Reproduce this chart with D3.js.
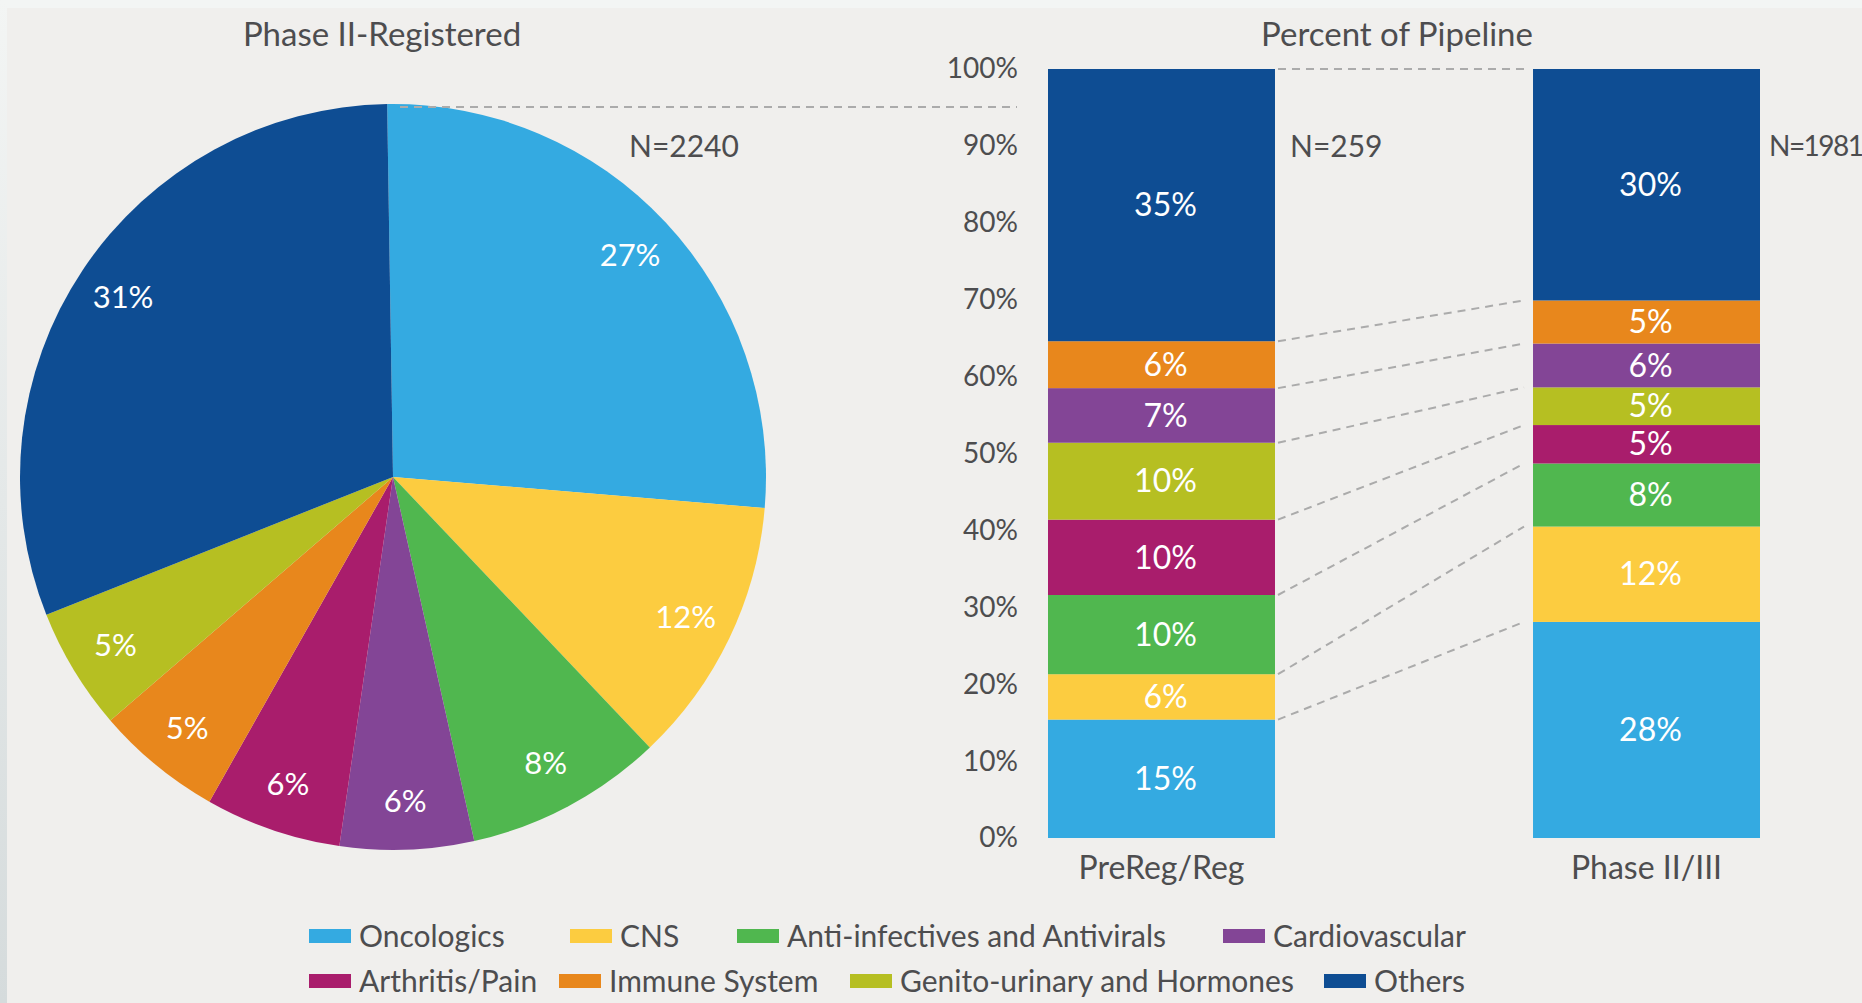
<!DOCTYPE html>
<html lang="en">
<head>
<meta charset="utf-8">
<script src="https://cdn.jsdelivr.net/npm/d3@7/dist/d3.min.js"></script>
<style>
  body { margin: 0; background: #f3f5f4; }
  text { font-family: Lato, "Open Sans", sans-serif; }
</style>
</head>
<body>
<div id="my_dataviz"></div>
<script>
// categories, in legend / pie order
var categories = ["Oncologics", "CNS", "Anti-infectives and Antivirals", "Cardiovascular",
                  "Arthritis/Pain", "Immune System", "Genito-urinary and Hormones", "Others"];
var colors = ["#34aae1", "#fccc40", "#50b74f", "#834596", "#a91d6c", "#e8871c", "#b6bf22", "#0e4d93"];

// pie: Phase II-Registered (shares, printed labels)
var pieValues = [26.6, 11.6, 8.6, 5.8, 5.9, 5.5, 5.3, 30.8];
var pieLabels = ["27%", "12%", "8%", "6%", "6%", "5%", "5%", "31%"];

// stacked bars, bottom to top
var stackOrder = ["Oncologics", "CNS", "Anti-infectives and Antivirals", "Arthritis/Pain",
                  "Genito-urinary and Hormones", "Cardiovascular", "Immune System", "Others"];
var barNames = ["PreReg/Reg", "Phase II/III"];
var barN = ["N=259", "N=1981"];
var preRegValues = [15.4, 5.9, 10.3, 9.8, 10.0, 7.1, 6.1, 35.4];
var preRegLabels = ["15%", "6%", "10%", "10%", "10%", "7%", "6%", "35%"];
var phase23Values = [28.1, 12.4, 8.2, 5.0, 4.9, 5.7, 5.6, 30.1];
var phase23Labels = ["28%", "12%", "8%", "5%", "5%", "6%", "5%", "30%"];
var yTicks = [0, 10, 20, 30, 40, 50, 60, 70, 80, 90, 100];

var W = 1862, H = 1003;
var textCol = "#4d4d4f";

var svg = d3.select("#my_dataviz").append("svg")
    .attr("width", W).attr("height", H);

// page frame
var grad = svg.append("defs").append("linearGradient")
    .attr("id", "edge").attr("x1", 0).attr("y1", 0).attr("x2", 0).attr("y2", 1);
grad.append("stop").attr("offset", "0%").attr("stop-color", "#f3f5f4");
grad.append("stop").attr("offset", "100%").attr("stop-color", "#d5dbdc");
svg.append("rect").attr("x", 0).attr("y", 0).attr("width", 7).attr("height", H).attr("fill", "url(#edge)");
svg.append("rect").attr("x", 7).attr("y", 8).attr("width", W - 7).attr("height", H - 8).attr("fill", "#f0efed");

var color = d3.scaleOrdinal().domain(categories).range(colors);

// ---------- pie ----------
var cx = 393, cy = 477, R = 373;
var pieData = categories.map(function (c, i) {
    return {name: c, value: pieValues[i], label: pieLabels[i]};
});
var pie = d3.pie().value(function (d) { return d.value; }).sort(null)
    .startAngle(-0.9 * Math.PI / 180).endAngle(2 * Math.PI - 0.9 * Math.PI / 180);
var arc = d3.arc().innerRadius(0).outerRadius(R);
var labelArc = d3.arc().innerRadius(R * 0.87).outerRadius(R * 0.87);

var gPie = svg.append("g").attr("transform", "translate(" + cx + "," + cy + ")");
var arcs = pie(pieData);
gPie.selectAll("path").data(arcs).enter().append("path")
    .attr("d", arc)
    .attr("fill", function (d) { return color(d.data.name); });
gPie.selectAll("text").data(arcs).enter().append("text")
    .attr("transform", function (d) { return "translate(" + labelArc.centroid(d) + ")"; })
    .attr("text-anchor", "middle").attr("dy", "0.35em")
    .style("font-size", "31px").style("fill", "#fff")
    .text(function (d) { return d.data.label; });

svg.append("text").attr("x", 382).attr("y", 34).attr("dy", "0.35em")
    .attr("text-anchor", "middle").style("font-size", "33px").style("fill", textCol)
    .text("Phase II-Registered");
svg.append("text").attr("x", 629).attr("y", 146).attr("dy", "0.35em")
    .style("font-size", "30px").style("fill", textCol).text("N=2240");

// ---------- stacked bars ----------
var y = d3.scaleLinear().domain([0, 100]).range([838, 69]);
var x = d3.scaleBand().domain(barNames).range([1048, 1760]).paddingInner(0.532).paddingOuter(0);

var series = [preRegValues, phase23Values];
var seriesLabels = [preRegLabels, phase23Labels];
var stackRows = barNames.map(function (b, i) {
    var row = {bar: b};
    stackOrder.forEach(function (c, j) { row[c] = series[i][j]; });
    return row;
});
var stacked = d3.stack().keys(stackOrder)(stackRows);

// dashed connectors
var dash = "8,6", dashCol = "#ababab";
svg.append("line")
    .attr("x1", cx + 7).attr("x2", 1017).attr("y1", cy - R + 3).attr("y2", cy - R + 3)
    .attr("stroke", dashCol).attr("stroke-width", 2).attr("stroke-dasharray", dash);
var x1 = x(barNames[0]) + x.bandwidth() + 3, x2 = x(barNames[1]) - 9;
svg.append("line").attr("x1", x1).attr("x2", x2).attr("y1", y(100)).attr("y2", y(100))
    .attr("stroke", dashCol).attr("stroke-width", 2).attr("stroke-dasharray", dash);
svg.selectAll(".conn").data(stacked.slice(0, stacked.length - 1)).enter().append("line")
    .attr("class", "conn")
    .attr("x1", x1).attr("x2", x2)
    .attr("y1", function (s) { return y(s[0][1]); })
    .attr("y2", function (s) { return y(s[1][1]); })
    .attr("stroke", dashCol).attr("stroke-width", 2).attr("stroke-dasharray", dash);

var layer = svg.selectAll(".layer").data(stacked).enter().append("g")
    .attr("class", "layer").attr("fill", function (s) { return color(s.key); });
layer.selectAll("rect").data(function (s) { return s; }).enter().append("rect")
    .attr("x", function (d) { return x(d.data.bar); })
    .attr("width", x.bandwidth())
    .attr("y", function (d) { return y(d[1]); })
    .attr("height", function (d) { return y(d[0]) - y(d[1]); });
layer.selectAll("text").data(function (s) { return s.map(function (d, i) { return {d: d, key: s.key, i: i}; }); })
    .enter().append("text")
    .attr("x", function (o) { return x(o.d.data.bar) + x.bandwidth() / 2 + 4; })
    .attr("y", function (o) { return (y(o.d[0]) + y(o.d[1])) / 2; })
    .attr("dy", "0.35em").attr("text-anchor", "middle")
    .style("font-size", "32px").style("fill", "#fff")
    .text(function (o) { return seriesLabels[o.i][stackOrder.indexOf(o.key)]; });

// y axis labels
svg.append("g").attr("transform", "translate(1018,0)")
    .call(d3.axisLeft(y).tickValues(yTicks).tickSize(0).tickPadding(0)
        .tickFormat(function (d) { return d + "%"; }))
    .call(function (g) { g.select(".domain").remove(); })
    .selectAll("text").style("font-size", "28px").style("fill", textCol)
    .style("font-family", "Lato, sans-serif");

// x axis labels
svg.append("g").attr("transform", "translate(0,838)")
    .call(d3.axisBottom(x).tickSize(0).tickPadding(18))
    .call(function (g) { g.select(".domain").remove(); })
    .selectAll("text").style("font-size", "32px").style("fill", textCol)
    .style("font-family", "Lato, sans-serif");

barNames.forEach(function (b, i) {
    svg.append("text").attr("x", x(b) + x.bandwidth() + (i === 0 ? 15 : 9)).attr("y", 146).attr("dy", "0.35em")
        .style("font-size", i === 0 ? "30px" : "28px").style("letter-spacing", i === 0 ? "0px" : "-1.5px")
        .style("fill", textCol).text(barN[i]);
});

svg.append("text").attr("x", 1397).attr("y", 34).attr("dy", "0.35em")
    .attr("text-anchor", "middle").style("font-size", "33px").style("fill", textCol)
    .text("Percent of Pipeline");

// ---------- legend ----------
var legendPos = [[309, 936], [570, 936], [737, 936], [1223, 936],
                 [309, 981], [559, 981], [850, 981], [1324, 981]];
var leg = svg.selectAll(".leg").data(categories).enter().append("g")
    .attr("class", "leg")
    .attr("transform", function (d, i) { return "translate(" + legendPos[i][0] + "," + legendPos[i][1] + ")"; });
leg.append("rect").attr("x", 0).attr("y", -7).attr("width", 42).attr("height", 14)
    .attr("fill", function (d) { return color(d); });
leg.append("text").attr("x", 50).attr("dy", "0.35em")
    .style("font-size", "30px").style("fill", textCol)
    .text(function (d) { return d; });
</script>
</body>
</html>
